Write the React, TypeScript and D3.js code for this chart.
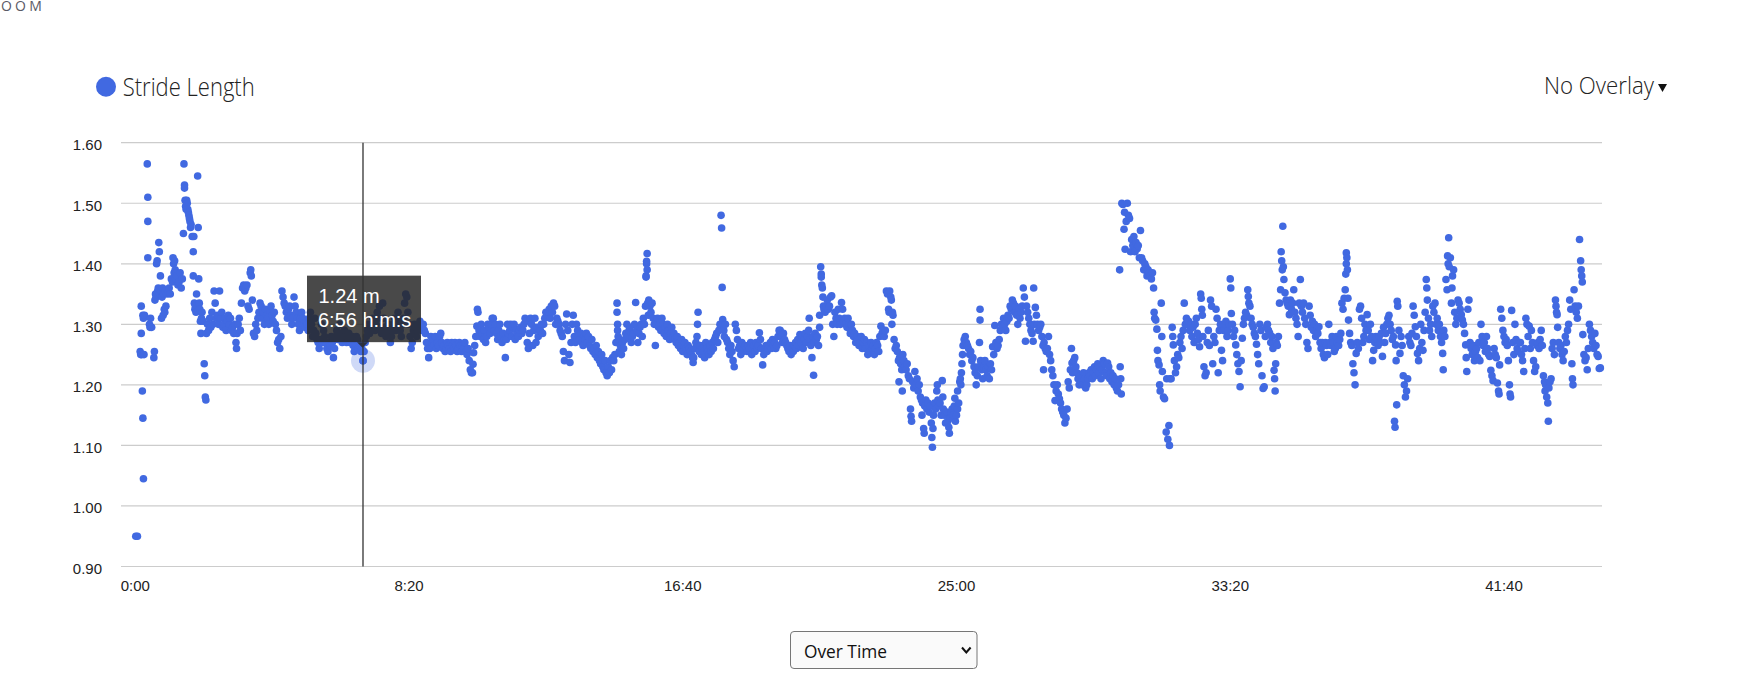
import React, { useEffect, useRef } from 'react';
import * as d3 from 'd3';

// [seconds, metres]
type Sample = [number, number];

// 0:00 - 2:10 warm-up spikes
const warmupStrides: Sample[] = [
  [1, 0.95], [4, 0.95], [9, 1.255], [10, 1.25], [11, 1.33], [11, 1.285], [12, 1.25], [13, 1.19], [14, 1.145], [14, 1.315],
  [15, 1.045], [15, 1.31], [16, 1.25], [17, 1.315], [22, 1.565], [23, 1.51], [23, 1.47], [23, 1.41], [26, 1.30], [27, 1.295],
  [28, 1.31], [30, 1.295], [34, 1.245], [35, 1.255], [36, 1.34], [37, 1.35], [38, 1.345], [39, 1.40], [40, 1.405], [41, 1.355],
  [42, 1.36], [43, 1.435], [44, 1.42], [45, 1.35], [46, 1.38], [47, 1.355], [48, 1.31], [49, 1.345], [50, 1.36], [51, 1.315],
  [52, 1.35], [53, 1.325], [54, 1.32], [55, 1.355], [56, 1.33], [58, 1.35], [60, 1.355], [62, 1.36], [64, 1.35], [66, 1.375],
  [68, 1.37], [69, 1.41], [70, 1.40], [71, 1.385], [72, 1.405], [73, 1.39], [74, 1.375], [75, 1.385], [76, 1.38], [78, 1.365],
  [80, 1.37], [82, 1.385], [84, 1.36], [86, 1.375], [88, 1.45], [89, 1.565], [90, 1.53], [90, 1.525], [91, 1.505], [92, 1.495],
  [93, 1.49], [94, 1.505], [95, 1.50], [96, 1.49], [97, 1.485], [98, 1.48], [99, 1.475], [100, 1.47], [101, 1.46], [102, 1.465],
  [104, 1.445], [106, 1.42], [106, 1.38], [107, 1.445], [108, 1.335], [109, 1.325], [110, 1.33], [111, 1.32], [112, 1.35], [114, 1.545],
  [115, 1.46], [116, 1.375], [117, 1.335], [118, 1.325], [119, 1.305], [120, 1.285], [121, 1.31], [122, 1.32], [124, 1.305], [126, 1.235],
  [127, 1.215], [128, 1.18], [129, 1.175], [130, 1.285]
];

// 2:10 - 9:40
const settleStrides: Sample[] = [
  [132, 1.30], [134, 1.29], [136, 1.31], [138, 1.295], [140, 1.32], [142, 1.30], [144, 1.355], [146, 1.335], [148, 1.31], [150, 1.315],
  [152, 1.30], [154, 1.355], [156, 1.31], [158, 1.32], [160, 1.295], [162, 1.30], [164, 1.31], [166, 1.29], [168, 1.305], [170, 1.315],
  [172, 1.30], [174, 1.31], [176, 1.29], [178, 1.295], [180, 1.285], [182, 1.30], [184, 1.27], [185, 1.26], [186, 1.285], [188, 1.30],
  [190, 1.31], [192, 1.29], [194, 1.335], [196, 1.36], [198, 1.365], [200, 1.355], [202, 1.36], [204, 1.365], [206, 1.33], [208, 1.325],
  [210, 1.385], [211, 1.39], [212, 1.38], [214, 1.34], [216, 1.285], [218, 1.28], [220, 1.30], [222, 1.29], [224, 1.31], [226, 1.32],
  [228, 1.335], [230, 1.33], [232, 1.31], [234, 1.32], [236, 1.30], [238, 1.325], [240, 1.315], [242, 1.31], [244, 1.30], [246, 1.32],
  [248, 1.33], [250, 1.315], [252, 1.305], [254, 1.32], [256, 1.30], [258, 1.29], [260, 1.27], [262, 1.275], [264, 1.26], [266, 1.28],
  [268, 1.355], [270, 1.345], [272, 1.335], [274, 1.33], [276, 1.32], [278, 1.31], [280, 1.325], [282, 1.33], [284, 1.315], [286, 1.30],
  [288, 1.31], [290, 1.345], [292, 1.33], [294, 1.32], [296, 1.31], [298, 1.30], [300, 1.29], [302, 1.31], [304, 1.32], [306, 1.31],
  [308, 1.30], [310, 1.295], [312, 1.305], [314, 1.30], [316, 1.29], [318, 1.31], [320, 1.32], [322, 1.30], [324, 1.28], [326, 1.29],
  [328, 1.31], [330, 1.285], [332, 1.275], [334, 1.27], [336, 1.26], [338, 1.275], [340, 1.30], [342, 1.27], [344, 1.29], [346, 1.28],
  [348, 1.27], [350, 1.26], [352, 1.255], [354, 1.27], [356, 1.265], [358, 1.28], [360, 1.27], [362, 1.245], [364, 1.26], [366, 1.28],
  [368, 1.29], [370, 1.275], [372, 1.28], [374, 1.30], [376, 1.285], [378, 1.27], [380, 1.275], [382, 1.29], [384, 1.28], [386, 1.27],
  [388, 1.28], [390, 1.285], [392, 1.27], [394, 1.275], [396, 1.28], [398, 1.265], [400, 1.255], [402, 1.27], [404, 1.28], [406, 1.275],
  [408, 1.26], [410, 1.265], [412, 1.255], [414, 1.26], [416, 1.24], [418, 1.255], [420, 1.27], [422, 1.28], [424, 1.29], [426, 1.30],
  [428, 1.285], [430, 1.29], [432, 1.30], [434, 1.31], [436, 1.295], [438, 1.29], [440, 1.30], [442, 1.32], [444, 1.31], [446, 1.33],
  [448, 1.29], [450, 1.285], [452, 1.335], [454, 1.31], [456, 1.295], [458, 1.28], [460, 1.29], [462, 1.30], [464, 1.285], [466, 1.27],
  [468, 1.28], [470, 1.29], [472, 1.30], [474, 1.31], [476, 1.29], [478, 1.305], [480, 1.32], [482, 1.30], [484, 1.29], [486, 1.28],
  [488, 1.30], [490, 1.31], [492, 1.335], [494, 1.35], [496, 1.345], [498, 1.32], [500, 1.30], [502, 1.28], [504, 1.26], [506, 1.27],
  [508, 1.29], [510, 1.30], [512, 1.285], [514, 1.28], [516, 1.29], [518, 1.30], [520, 1.305], [522, 1.30], [524, 1.29], [526, 1.30],
  [528, 1.29], [530, 1.285], [532, 1.27], [534, 1.26], [536, 1.245], [538, 1.26], [540, 1.28], [542, 1.27], [544, 1.275], [546, 1.265],
  [548, 1.28], [550, 1.26], [552, 1.27], [554, 1.265], [556, 1.28], [558, 1.285], [560, 1.27], [562, 1.26], [564, 1.265], [566, 1.255],
  [568, 1.26], [570, 1.27], [572, 1.265], [574, 1.26], [576, 1.255]
];

// 9:40 - 19:40
const cruiseStrides: Sample[] = [
  [578, 1.27], [580, 1.265], [582, 1.26], [584, 1.27], [586, 1.265], [588, 1.255], [590, 1.26], [592, 1.27], [594, 1.265], [596, 1.255],
  [598, 1.265], [600, 1.26], [602, 1.27], [604, 1.255], [606, 1.25], [608, 1.26], [610, 1.24], [612, 1.225], [614, 1.22], [616, 1.22],
  [617, 1.234], [618, 1.253], [620, 1.265], [622, 1.28], [624, 1.297], [625, 1.325], [626, 1.32], [628, 1.29], [630, 1.28], [632, 1.30],
  [634, 1.285], [636, 1.275], [638, 1.29], [640, 1.27], [642, 1.28], [644, 1.30], [646, 1.295], [648, 1.285], [650, 1.30], [652, 1.31],
  [654, 1.31], [656, 1.29], [658, 1.30], [660, 1.285], [662, 1.275], [664, 1.29], [666, 1.30], [668, 1.28], [670, 1.27], [672, 1.285],
  [674, 1.275], [676, 1.245], [678, 1.275], [680, 1.30], [682, 1.285], [684, 1.29], [686, 1.30], [688, 1.28], [690, 1.295], [692, 1.30],
  [694, 1.275], [696, 1.29], [698, 1.285], [700, 1.28], [702, 1.29], [704, 1.295], [706, 1.285], [708, 1.29], [710, 1.30], [712, 1.31],
  [714, 1.305], [716, 1.27], [718, 1.26], [720, 1.285], [722, 1.31], [724, 1.30], [726, 1.265], [728, 1.29], [730, 1.31], [732, 1.27],
  [734, 1.295], [736, 1.28], [738, 1.29], [740, 1.29], [742, 1.30], [744, 1.285], [746, 1.30], [748, 1.31], [750, 1.32], [752, 1.315],
  [754, 1.32], [756, 1.325], [758, 1.31], [760, 1.33], [762, 1.32], [764, 1.335], [766, 1.33], [768, 1.30], [770, 1.31], [772, 1.305],
  [774, 1.30], [776, 1.29], [778, 1.285], [780, 1.28], [782, 1.255], [784, 1.24], [786, 1.30], [788, 1.317], [790, 1.29], [792, 1.25],
  [794, 1.237], [796, 1.27], [798, 1.30], [800, 1.315], [802, 1.28], [804, 1.27], [806, 1.30], [808, 1.29], [810, 1.28], [812, 1.275],
  [814, 1.285], [816, 1.27], [818, 1.265], [820, 1.28], [822, 1.275], [824, 1.285], [826, 1.27], [828, 1.28], [830, 1.265], [832, 1.26],
  [834, 1.275], [836, 1.255], [838, 1.26], [840, 1.25], [842, 1.265], [844, 1.245], [846, 1.255], [848, 1.24], [850, 1.235], [852, 1.25],
  [854, 1.23], [856, 1.225], [858, 1.24], [860, 1.22], [862, 1.215], [864, 1.23], [866, 1.22], [868, 1.24], [870, 1.225], [872, 1.245],
  [874, 1.24], [876, 1.25], [878, 1.27], [880, 1.335], [880, 1.32], [881, 1.30], [881, 1.29], [882, 1.28], [883, 1.275], [884, 1.255],
  [886, 1.265], [888, 1.25], [890, 1.27], [892, 1.26], [894, 1.275], [896, 1.285], [898, 1.30], [900, 1.28], [902, 1.29], [904, 1.295],
  [906, 1.27], [908, 1.28], [910, 1.285], [912, 1.30], [914, 1.336], [916, 1.29], [918, 1.27], [920, 1.285], [922, 1.295], [924, 1.30],
  [926, 1.28], [928, 1.31], [930, 1.30], [932, 1.33], [933, 1.378], [933, 1.38], [934, 1.40], [934, 1.404], [935, 1.417], [935, 1.39],
  [936, 1.335], [937, 1.315], [938, 1.34], [940, 1.33], [942, 1.32], [944, 1.335], [946, 1.31], [948, 1.30], [950, 1.265], [952, 1.30],
  [954, 1.31], [956, 1.295], [958, 1.30], [960, 1.29], [962, 1.31], [964, 1.30], [966, 1.285], [968, 1.295], [970, 1.28], [972, 1.30],
  [974, 1.29], [976, 1.275], [978, 1.285], [980, 1.295], [982, 1.28], [984, 1.285], [986, 1.275], [988, 1.27], [990, 1.28], [992, 1.265],
  [994, 1.27], [996, 1.26], [998, 1.275], [1000, 1.255], [1002, 1.265], [1004, 1.27], [1006, 1.26], [1008, 1.25], [1010, 1.265], [1012, 1.26],
  [1014, 1.255], [1016, 1.25], [1018, 1.245], [1019, 1.237], [1020, 1.245], [1022, 1.26], [1024, 1.27], [1026, 1.28], [1027, 1.30], [1028, 1.32],
  [1030, 1.255], [1032, 1.265], [1034, 1.25], [1036, 1.26], [1038, 1.255], [1040, 1.245], [1042, 1.27], [1044, 1.26], [1046, 1.255], [1048, 1.25],
  [1050, 1.265], [1052, 1.255], [1054, 1.27], [1056, 1.26], [1058, 1.275], [1060, 1.28], [1062, 1.285], [1064, 1.27], [1066, 1.29], [1068, 1.30],
  [1070, 1.48], [1071, 1.459], [1072, 1.361], [1073, 1.308], [1074, 1.30], [1075, 1.29], [1076, 1.28], [1078, 1.30], [1080, 1.275], [1082, 1.27],
  [1084, 1.26], [1086, 1.25], [1088, 1.265], [1090, 1.255], [1092, 1.24], [1094, 1.23], [1096, 1.30], [1098, 1.29], [1100, 1.275], [1102, 1.26],
  [1104, 1.265], [1106, 1.25], [1108, 1.27], [1110, 1.255], [1112, 1.26], [1114, 1.265], [1116, 1.26], [1118, 1.255], [1120, 1.265], [1122, 1.26],
  [1124, 1.27], [1126, 1.25], [1128, 1.26], [1130, 1.265], [1132, 1.255], [1134, 1.27], [1136, 1.26], [1138, 1.265], [1140, 1.286], [1142, 1.275],
  [1144, 1.26], [1146, 1.233], [1148, 1.25], [1150, 1.26], [1152, 1.265], [1154, 1.255], [1156, 1.26], [1158, 1.265], [1160, 1.27], [1162, 1.26],
  [1164, 1.275], [1166, 1.265], [1168, 1.27], [1170, 1.26], [1172, 1.265], [1174, 1.28], [1176, 1.29]
];

// 19:40 - 30:00, the big dip
const dipStrides: Sample[] = [
  [1178, 1.29], [1180, 1.28], [1182, 1.27], [1184, 1.285], [1186, 1.275], [1188, 1.27], [1190, 1.265], [1192, 1.26], [1194, 1.255], [1196, 1.265],
  [1198, 1.25], [1200, 1.26], [1202, 1.255], [1204, 1.265], [1206, 1.27], [1208, 1.26], [1210, 1.275], [1212, 1.265], [1214, 1.283], [1216, 1.27],
  [1218, 1.28], [1220, 1.26], [1222, 1.275], [1224, 1.285], [1226, 1.27], [1228, 1.28], [1230, 1.29], [1231, 1.31], [1232, 1.275], [1234, 1.265],
  [1236, 1.245], [1238, 1.28], [1239, 1.216], [1240, 1.27], [1242, 1.285], [1244, 1.275], [1246, 1.28], [1248, 1.265], [1250, 1.295], [1250, 1.315],
  [1252, 1.395], [1253, 1.383], [1253, 1.378], [1254, 1.365], [1255, 1.36], [1256, 1.345], [1257, 1.33], [1258, 1.325], [1260, 1.32], [1262, 1.33],
  [1264, 1.34], [1266, 1.325], [1268, 1.33], [1270, 1.345], [1272, 1.347], [1274, 1.30], [1276, 1.28], [1278, 1.32], [1280, 1.31], [1282, 1.30],
  [1284, 1.325], [1286, 1.31], [1288, 1.30], [1290, 1.336], [1292, 1.325], [1294, 1.305], [1296, 1.31], [1298, 1.30], [1300, 1.295], [1302, 1.31],
  [1304, 1.30], [1306, 1.285], [1308, 1.30], [1310, 1.29], [1312, 1.28], [1314, 1.285], [1316, 1.27], [1318, 1.28], [1320, 1.275], [1322, 1.265],
  [1324, 1.27], [1326, 1.28], [1328, 1.26], [1330, 1.27], [1332, 1.275], [1334, 1.26], [1336, 1.27], [1338, 1.25], [1340, 1.265], [1342, 1.255],
  [1344, 1.27], [1346, 1.26], [1348, 1.265], [1350, 1.25], [1352, 1.26], [1354, 1.27], [1356, 1.265], [1358, 1.255], [1360, 1.28], [1362, 1.297],
  [1364, 1.285], [1366, 1.29], [1368, 1.28], [1370, 1.29], [1372, 1.355], [1374, 1.35], [1376, 1.325], [1377, 1.32], [1378, 1.355], [1380, 1.345],
  [1381, 1.34], [1382, 1.30], [1383, 1.32], [1384, 1.315], [1386, 1.275], [1388, 1.26], [1390, 1.265], [1392, 1.255], [1394, 1.24], [1395, 1.205],
  [1396, 1.245], [1398, 1.235], [1400, 1.225], [1401, 1.19], [1402, 1.25], [1404, 1.24], [1406, 1.23], [1408, 1.225], [1410, 1.235], [1412, 1.215],
  [1414, 1.21], [1416, 1.16], [1417, 1.148], [1418, 1.14], [1420, 1.205], [1422, 1.195], [1424, 1.222], [1426, 1.20], [1428, 1.21], [1430, 1.19],
  [1432, 1.20], [1434, 1.18], [1436, 1.175], [1437, 1.15], [1438, 1.17], [1440, 1.128], [1441, 1.12], [1442, 1.165], [1444, 1.175], [1446, 1.16],
  [1448, 1.17], [1450, 1.155], [1452, 1.165], [1454, 1.137], [1455, 1.113], [1456, 1.097], [1457, 1.128], [1458, 1.15], [1460, 1.17], [1462, 1.16],
  [1464, 1.19], [1465, 1.20], [1466, 1.175], [1468, 1.165], [1470, 1.17], [1472, 1.15], [1474, 1.207], [1475, 1.18], [1476, 1.16], [1478, 1.15],
  [1480, 1.137], [1482, 1.155], [1484, 1.14], [1486, 1.13], [1487, 1.12], [1488, 1.145], [1490, 1.155], [1492, 1.16], [1494, 1.15], [1496, 1.165],
  [1497, 1.178], [1498, 1.14], [1500, 1.15], [1502, 1.16], [1502, 1.19], [1504, 1.17], [1506, 1.205], [1507, 1.21], [1508, 1.20], [1509, 1.22],
  [1510, 1.235], [1511, 1.25], [1512, 1.265], [1514, 1.275], [1516, 1.28], [1518, 1.27], [1520, 1.265], [1522, 1.26], [1524, 1.25], [1526, 1.255],
  [1528, 1.24], [1530, 1.245], [1532, 1.23], [1534, 1.22], [1536, 1.20], [1538, 1.215], [1540, 1.23], [1542, 1.27], [1543, 1.325], [1543, 1.307],
  [1544, 1.24], [1546, 1.225], [1548, 1.21], [1550, 1.23], [1552, 1.24], [1554, 1.225], [1556, 1.215], [1558, 1.23], [1560, 1.21], [1562, 1.235],
  [1564, 1.225], [1566, 1.263], [1568, 1.25], [1570, 1.298], [1572, 1.27], [1574, 1.26], [1576, 1.265], [1578, 1.275], [1580, 1.29], [1582, 1.30],
  [1584, 1.295], [1586, 1.31], [1588, 1.30], [1590, 1.29], [1592, 1.305], [1594, 1.315], [1596, 1.31], [1598, 1.33], [1600, 1.325], [1602, 1.34],
  [1604, 1.335], [1606, 1.32], [1608, 1.33], [1610, 1.315], [1612, 1.30], [1614, 1.325], [1616, 1.31], [1618, 1.32], [1620, 1.33], [1622, 1.36],
  [1624, 1.345], [1626, 1.272], [1628, 1.33], [1630, 1.32], [1632, 1.31], [1634, 1.30], [1636, 1.29], [1638, 1.285], [1640, 1.272], [1641, 1.36],
  [1642, 1.30], [1644, 1.328], [1646, 1.315], [1648, 1.30], [1650, 1.29], [1652, 1.295], [1654, 1.30], [1656, 1.28], [1658, 1.265], [1659, 1.225],
  [1660, 1.27], [1662, 1.26], [1664, 1.255], [1666, 1.26], [1668, 1.28], [1670, 1.25], [1672, 1.24], [1674, 1.225], [1676, 1.215], [1678, 1.20],
  [1680, 1.174], [1682, 1.19], [1684, 1.20], [1686, 1.185], [1688, 1.177], [1690, 1.17], [1692, 1.16], [1694, 1.155], [1696, 1.15], [1698, 1.137],
  [1700, 1.145], [1702, 1.16], [1704, 1.205], [1706, 1.195], [1708, 1.225], [1710, 1.26], [1711, 1.236], [1712, 1.22], [1714, 1.24], [1716, 1.245],
  [1718, 1.23], [1720, 1.22], [1722, 1.21], [1724, 1.20], [1726, 1.215], [1728, 1.205], [1730, 1.20], [1732, 1.22], [1734, 1.21], [1736, 1.195],
  [1738, 1.20], [1740, 1.21], [1742, 1.22], [1744, 1.215], [1746, 1.225], [1748, 1.21], [1750, 1.22], [1752, 1.23], [1754, 1.215], [1756, 1.225],
  [1758, 1.235], [1760, 1.22], [1762, 1.23], [1764, 1.21], [1766, 1.225], [1768, 1.24], [1770, 1.235], [1772, 1.22], [1774, 1.215], [1776, 1.236],
  [1778, 1.23], [1780, 1.21], [1782, 1.22], [1784, 1.205], [1786, 1.215], [1788, 1.20], [1790, 1.21], [1792, 1.195], [1794, 1.19], [1796, 1.20]
];

// 30:00 - 40:15
const surgeStrides: Sample[] = [
  [1798, 1.39], [1799, 1.23], [1800, 1.21], [1801, 1.185], [1802, 1.50], [1804, 1.498], [1806, 1.457], [1807, 1.485], [1808, 1.424], [1810, 1.47],
  [1812, 1.50], [1814, 1.48], [1816, 1.475], [1818, 1.42], [1820, 1.44], [1822, 1.43], [1824, 1.445], [1826, 1.42], [1828, 1.435], [1830, 1.425],
  [1832, 1.43], [1834, 1.41], [1836, 1.455], [1838, 1.41], [1840, 1.405], [1842, 1.39], [1844, 1.40], [1846, 1.395], [1848, 1.38], [1850, 1.39],
  [1852, 1.385], [1854, 1.38], [1856, 1.375], [1858, 1.385], [1860, 1.36], [1861, 1.32], [1862, 1.31], [1864, 1.307], [1866, 1.292], [1867, 1.257],
  [1868, 1.24], [1870, 1.233], [1871, 1.20], [1872, 1.19], [1874, 1.335], [1875, 1.28], [1876, 1.222], [1878, 1.18], [1880, 1.177], [1883, 1.122],
  [1884, 1.21], [1886, 1.11], [1888, 1.133], [1889, 1.10], [1890, 1.21], [1892, 1.21], [1894, 1.295], [1895, 1.28], [1896, 1.266], [1898, 1.24],
  [1900, 1.22], [1902, 1.23], [1904, 1.25], [1906, 1.245], [1908, 1.27], [1910, 1.28], [1912, 1.26], [1914, 1.29], [1916, 1.335], [1918, 1.30],
  [1920, 1.31], [1922, 1.30], [1924, 1.305], [1926, 1.29], [1928, 1.30], [1930, 1.28], [1932, 1.295], [1934, 1.27], [1936, 1.30], [1938, 1.31],
  [1940, 1.285], [1942, 1.275], [1944, 1.263], [1946, 1.35], [1947, 1.343], [1948, 1.325], [1949, 1.315], [1950, 1.28], [1952, 1.23], [1954, 1.215],
  [1956, 1.22], [1958, 1.27], [1960, 1.29], [1962, 1.265], [1964, 1.34], [1966, 1.33], [1968, 1.235], [1970, 1.28], [1972, 1.27], [1974, 1.325],
  [1976, 1.31], [1978, 1.22], [1980, 1.29], [1982, 1.30], [1984, 1.257], [1986, 1.24], [1988, 1.29], [1990, 1.30], [1992, 1.305], [1994, 1.28],
  [1996, 1.29], [1998, 1.30], [2000, 1.375], [2001, 1.36], [2002, 1.318], [2004, 1.30], [2006, 1.28], [2008, 1.29], [2010, 1.266], [2012, 1.25],
  [2014, 1.235], [2016, 1.222], [2018, 1.197], [2020, 1.24], [2022, 1.277], [2024, 1.30], [2026, 1.31], [2028, 1.32], [2030, 1.315], [2032, 1.357],
  [2033, 1.346], [2034, 1.335], [2036, 1.33], [2038, 1.31], [2040, 1.30], [2042, 1.295], [2044, 1.285], [2046, 1.28], [2048, 1.267], [2050, 1.25],
  [2052, 1.235], [2054, 1.30], [2056, 1.29], [2058, 1.215], [2060, 1.194], [2062, 1.197], [2064, 1.28], [2066, 1.295], [2068, 1.30], [2070, 1.29],
  [2072, 1.285], [2074, 1.27], [2076, 1.28], [2078, 1.26], [2080, 1.224], [2081, 1.21], [2082, 1.19], [2083, 1.235], [2084, 1.27], [2086, 1.265],
  [2088, 1.28], [2090, 1.335], [2092, 1.357], [2093, 1.42], [2094, 1.405], [2095, 1.39], [2096, 1.462], [2097, 1.395], [2098, 1.374], [2100, 1.352],
  [2102, 1.34], [2104, 1.335], [2106, 1.33], [2108, 1.316], [2110, 1.34], [2112, 1.325], [2114, 1.335], [2116, 1.357], [2118, 1.32], [2120, 1.31],
  [2122, 1.30], [2124, 1.28], [2126, 1.335], [2128, 1.374], [2130, 1.33], [2132, 1.32], [2134, 1.335], [2136, 1.31], [2138, 1.30], [2140, 1.27],
  [2142, 1.26], [2144, 1.33], [2146, 1.315], [2148, 1.295], [2150, 1.305], [2152, 1.29], [2154, 1.30], [2156, 1.28], [2158, 1.29], [2160, 1.285],
  [2162, 1.296], [2164, 1.27], [2166, 1.26], [2168, 1.27], [2170, 1.25], [2172, 1.245], [2174, 1.27], [2176, 1.265], [2178, 1.25], [2180, 1.30],
  [2182, 1.27], [2184, 1.265], [2186, 1.28], [2188, 1.27], [2190, 1.255], [2192, 1.26], [2194, 1.28], [2196, 1.27], [2198, 1.265], [2200, 1.275],
  [2202, 1.285], [2204, 1.335], [2206, 1.325], [2208, 1.343], [2210, 1.357], [2211, 1.383], [2212, 1.40], [2212, 1.418], [2213, 1.41], [2214, 1.39],
  [2215, 1.343], [2216, 1.307], [2218, 1.285], [2220, 1.27], [2222, 1.265], [2224, 1.235], [2226, 1.22], [2228, 1.20], [2230, 1.252], [2232, 1.27],
  [2234, 1.26], [2236, 1.325], [2238, 1.33], [2240, 1.31], [2242, 1.27], [2244, 1.28], [2246, 1.30], [2248, 1.29], [2250, 1.316], [2252, 1.29],
  [2254, 1.275], [2256, 1.30], [2258, 1.28], [2260, 1.24], [2262, 1.257], [2264, 1.27], [2266, 1.28], [2268, 1.275], [2270, 1.265], [2272, 1.28],
  [2274, 1.27], [2276, 1.285], [2278, 1.247], [2280, 1.295], [2282, 1.27], [2284, 1.285], [2286, 1.30], [2288, 1.31], [2290, 1.315], [2292, 1.30],
  [2294, 1.29], [2296, 1.275], [2298, 1.28], [2300, 1.14], [2301, 1.13], [2302, 1.266], [2303, 1.24], [2304, 1.167], [2305, 1.338], [2306, 1.33],
  [2308, 1.29], [2310, 1.252], [2312, 1.28], [2314, 1.265], [2316, 1.215], [2318, 1.20], [2320, 1.18], [2322, 1.19], [2324, 1.21], [2326, 1.28],
  [2328, 1.27], [2330, 1.265], [2332, 1.285], [2334, 1.33], [2336, 1.315], [2338, 1.296], [2340, 1.28], [2342, 1.252], [2344, 1.24], [2346, 1.26],
  [2348, 1.30], [2350, 1.27], [2352, 1.257], [2354, 1.29], [2356, 1.32], [2358, 1.374], [2359, 1.36], [2360, 1.34], [2362, 1.31], [2364, 1.29],
  [2366, 1.30], [2368, 1.28], [2370, 1.33], [2372, 1.32], [2374, 1.335], [2376, 1.30], [2378, 1.31], [2380, 1.29], [2382, 1.30], [2384, 1.28],
  [2386, 1.27], [2388, 1.252], [2389, 1.225], [2390, 1.29], [2392, 1.28], [2394, 1.374], [2396, 1.357], [2397, 1.413], [2398, 1.40], [2399, 1.443],
  [2400, 1.395], [2402, 1.41], [2404, 1.335], [2405, 1.36], [2406, 1.38], [2408, 1.39], [2410, 1.32], [2412, 1.30], [2414, 1.31]
];

// 40:15 - end
const finishStrides: Sample[] = [
  [2416, 1.34], [2418, 1.335], [2420, 1.325], [2422, 1.316], [2424, 1.307], [2426, 1.30], [2428, 1.285], [2430, 1.266], [2431, 1.245], [2432, 1.222],
  [2434, 1.325], [2436, 1.34], [2438, 1.27], [2440, 1.26], [2442, 1.25], [2444, 1.265], [2446, 1.24], [2448, 1.255], [2450, 1.26], [2452, 1.245],
  [2454, 1.27], [2456, 1.24], [2458, 1.30], [2460, 1.28], [2462, 1.265], [2464, 1.27], [2466, 1.255], [2468, 1.28], [2470, 1.26], [2472, 1.25],
  [2474, 1.247], [2476, 1.224], [2478, 1.215], [2480, 1.207], [2482, 1.26], [2484, 1.25], [2486, 1.245], [2488, 1.203], [2490, 1.19], [2491, 1.185],
  [2492, 1.233], [2494, 1.325], [2496, 1.31], [2498, 1.29], [2500, 1.28], [2502, 1.27], [2504, 1.275], [2506, 1.265], [2508, 1.24], [2510, 1.20],
  [2511, 1.185], [2512, 1.18], [2514, 1.323], [2516, 1.27], [2518, 1.25], [2520, 1.30], [2522, 1.275], [2524, 1.26], [2526, 1.255], [2528, 1.27],
  [2530, 1.27], [2532, 1.25], [2534, 1.24], [2536, 1.222], [2538, 1.26], [2540, 1.31], [2542, 1.30], [2544, 1.28], [2546, 1.297], [2548, 1.26],
  [2550, 1.29], [2552, 1.27], [2554, 1.24], [2556, 1.222], [2558, 1.23], [2560, 1.265], [2562, 1.27], [2564, 1.26], [2566, 1.275], [2568, 1.29],
  [2570, 1.265], [2572, 1.215], [2574, 1.205], [2575, 1.19], [2576, 1.20], [2578, 1.18], [2580, 1.17], [2581, 1.14], [2582, 1.195], [2584, 1.205],
  [2586, 1.21], [2588, 1.26], [2590, 1.27], [2592, 1.25], [2594, 1.34], [2595, 1.33], [2596, 1.32], [2597, 1.316], [2598, 1.295], [2600, 1.27],
  [2602, 1.26], [2604, 1.265], [2606, 1.25], [2608, 1.24], [2610, 1.255], [2612, 1.28], [2614, 1.27], [2616, 1.29], [2618, 1.30], [2620, 1.34],
  [2622, 1.325], [2624, 1.235], [2625, 1.21], [2626, 1.20], [2628, 1.357], [2630, 1.33], [2632, 1.32], [2634, 1.31], [2636, 1.33], [2638, 1.44],
  [2640, 1.405], [2641, 1.39], [2642, 1.38], [2643, 1.37], [2644, 1.283], [2646, 1.25], [2648, 1.24], [2650, 1.245], [2652, 1.225], [2654, 1.26],
  [2656, 1.30], [2658, 1.29], [2660, 1.28], [2662, 1.27], [2664, 1.26], [2666, 1.285], [2668, 1.265], [2670, 1.25], [2672, 1.247], [2674, 1.227],
  [2676, 1.228]
];

const yTicks = [0.9, 1.0, 1.1, 1.2, 1.3, 1.4, 1.5, 1.6];
const xTicks = [0, 500, 1000, 1500, 2000, 2500];
const hoverSample: Sample = [416, 1.24];
const seriesLabel = 'Stride Length';
const overlayLabel = 'No Overlay';
const modeLabel = 'Over Time';

const WIDTH = 1745;
const HEIGHT = 699;
const DOT = '#4169e1';

const clock = (s: number) => `${Math.floor(s / 60)}:${String(Math.round(s % 60)).padStart(2, '0')}`;

const App: React.FC = () => {
  const svgRef = useRef<SVGSVGElement>(null);

  useEffect(() => {
    if (!svgRef.current) return;
    const svg = d3.select(svgRef.current);
    svg.selectAll('*').remove();

    const data = [
      ...warmupStrides, ...settleStrides, ...cruiseStrides,
      ...dipStrides, ...surgeStrides, ...finishStrides
    ];

    const x = d3.scaleLinear().domain([-26, 2679]).range([121, 1602]);
    const y = d3.scaleLinear().domain([0.9, 1.6]).range([566.5, 142.7]);

    // page label cut at the top
    svg.append('text')
      .attr('x', 1).attr('y', 11)
      .attr('font-family', '"Open Sans", sans-serif')
      .attr('font-size', 14)
      .attr('letter-spacing', 3.2)
      .attr('fill', '#5a5a66')
      .text('OOM');

    // legend
    svg.append('circle').attr('cx', 106).attr('cy', 86.7).attr('r', 10).attr('fill', DOT);
    svg.append('text')
      .attr('x', 122.7).attr('y', 96)
      .attr('font-family', '"Open Sans", sans-serif')
      .attr('font-weight', 300)
      .attr('font-size', 26)
      .attr('textLength', 132)
      .attr('lengthAdjust', 'spacingAndGlyphs')
      .attr('fill', '#222')
      .text(seriesLabel);

    svg.append('text')
      .attr('x', 1544).attr('y', 94)
      .attr('font-family', '"Open Sans", sans-serif')
      .attr('font-weight', 300)
      .attr('font-size', 24)
      .attr('textLength', 110)
      .attr('lengthAdjust', 'spacingAndGlyphs')
      .attr('fill', '#222')
      .text(overlayLabel);
    svg.append('path')
      .attr('d', 'M1658,84 L1667,84 L1662.5,92 Z')
      .attr('fill', '#111');

    // gridlines + y labels
    const grid = svg.append('g');
    grid.selectAll('line')
      .data(yTicks)
      .enter()
      .append('line')
      .attr('x1', 121).attr('x2', 1602)
      .attr('y1', d => y(d)).attr('y2', d => y(d))
      .attr('stroke', '#cccccc')
      .attr('stroke-width', 1.2);
    grid.selectAll('text')
      .data(yTicks)
      .enter()
      .append('text')
      .attr('x', 102)
      .attr('y', d => y(d) + 7.5)
      .attr('text-anchor', 'end')
      .attr('font-family', '"Liberation Sans", Arial, sans-serif')
      .attr('font-size', 15)
      .attr('fill', '#222')
      .text(d => d3.format('.2f')(d));

    // x labels
    svg.append('g')
      .selectAll('text')
      .data(xTicks)
      .enter()
      .append('text')
      .attr('x', d => x(d))
      .attr('y', 591)
      .attr('text-anchor', 'middle')
      .attr('font-family', '"Liberation Sans", Arial, sans-serif')
      .attr('font-size', 15)
      .attr('fill', '#222')
      .text(d => clock(d));

    // points
    svg.append('g')
      .selectAll('circle')
      .data(data)
      .enter()
      .append('circle')
      .attr('cx', d => x(d[0]))
      .attr('cy', d => y(d[1]))
      .attr('r', 3.8)
      .attr('fill', DOT);

    // hover state
    const hx = x(hoverSample[0]);
    const hy = y(hoverSample[1]);
    svg.append('circle')
      .attr('cx', hx).attr('cy', hy).attr('r', 12)
      .attr('fill', DOT).attr('fill-opacity', 0.25);
    svg.append('circle')
      .attr('cx', hx).attr('cy', hy).attr('r', 3.8)
      .attr('fill', DOT);

    const tip = svg.append('g');
    tip.append('rect')
      .attr('x', hx - 56).attr('y', hy - 85)
      .attr('width', 114).attr('height', 66.5)
      .attr('fill', '#262626').attr('fill-opacity', 0.84);
    tip.append('path')
      .attr('d', `M${hx - 6},${hy - 18.5} L${hx + 5},${hy - 18.5} L${hx - 0.5},${hy - 13} Z`)
      .attr('fill', '#262626').attr('fill-opacity', 0.84);
    tip.append('text')
      .attr('x', hx - 44.5).attr('y', hy - 57.5)
      .attr('font-family', '"Liberation Sans", Arial, sans-serif')
      .attr('font-size', 20)
      .attr('fill', '#fff')
      .text(`${hoverSample[1].toFixed(2)} m`);
    tip.append('text')
      .attr('x', hx - 45).attr('y', hy - 34)
      .attr('font-family', '"Liberation Sans", Arial, sans-serif')
      .attr('font-size', 20)
      .attr('fill', '#fff')
      .text(`${clock(hoverSample[0])} h:m:s`);

    svg.append('line')
      .attr('x1', hx).attr('x2', hx)
      .attr('y1', y(1.6)).attr('y2', y(0.9))
      .attr('stroke', '#333')
      .attr('stroke-width', 1.3);

    // view selector
    const sel = svg.append('g');
    sel.append('rect')
      .attr('x', 790.5).attr('y', 631.5)
      .attr('width', 186.5).attr('height', 37)
      .attr('rx', 3.5)
      .attr('fill', '#fafafa')
      .attr('stroke', '#767676');
    sel.append('text')
      .attr('x', 804).attr('y', 657.5)
      .attr('font-family', '"Open Sans", sans-serif')
      .attr('font-size', 18)
      .attr('textLength', 83)
      .attr('lengthAdjust', 'spacingAndGlyphs')
      .attr('fill', '#111')
      .text(modeLabel);
    sel.append('path')
      .attr('d', 'M962,647.5 L966.3,652.5 L970.6,647.5')
      .attr('fill', 'none')
      .attr('stroke', '#111')
      .attr('stroke-width', 2);
  }, []);

  return (
    <div>
      <style>{'body{margin:0;}'}</style>
      <svg ref={svgRef} width={WIDTH} height={HEIGHT} style={{ display: 'block' }}></svg>
    </div>
  );
};

export default App;
